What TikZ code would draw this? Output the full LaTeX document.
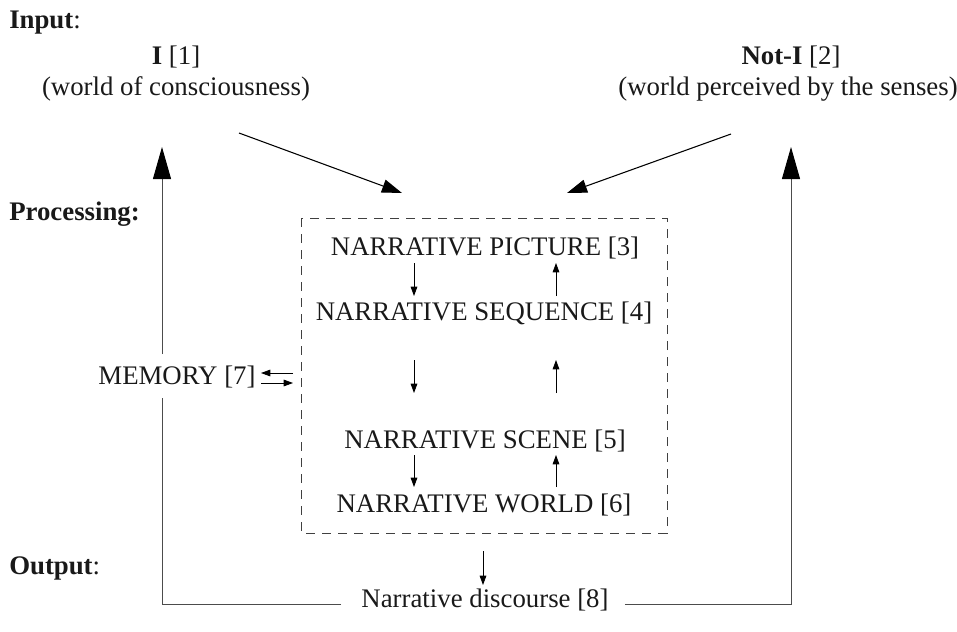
\documentclass[tikz,border=0pt]{standalone}
\usepackage{fontspec}
\setmainfont{Liberation Serif}
\usetikzlibrary{arrows.meta}
\begin{document}
\begin{tikzpicture}[x=0.75pt,y=-0.75pt,
  every node/.style={font=\fontsize{20.1}{24}\selectfont, text=black!90, inner sep=0pt},
  lbl/.style={anchor=west},
  big/.style={-{Triangle[length=24pt,width=13.5pt,color=black]}, line width=0.7pt},
  mid/.style={-{Triangle[length=15pt,width=10pt]}, line width=0.8pt},
  small/.style={-{Triangle[length=7pt,width=5pt]}, line width=0.6pt},
  plain/.style={line width=0.7pt, draw=black!70},
  box/.style={draw=black!75, dashed, dash pattern=on 7pt off 5pt, line width=0.6pt}]
\useasboundingbox (0,0) rectangle (957,632);
% labels
\node[lbl] (inp) at (9,23) {\textbf{Input}:};
\node[lbl] (proc) at (9,214) {\textbf{Processing:}};
\node[lbl] (outp) at (9,568) {\textbf{Output}:};
% inputs
\node (i) at (176,57) {\textbf{I} [1]};
\node (ic) at (176,89) {(world of consciousness)};
\node (ni) at (791,57) {\textbf{Not-I} [2]};
\node (nic) at (788,89) {(world perceived by the senses)};
% box
\draw[box] (301,218) rectangle (667,533);
\node (n3) at (485,248) {NARRATIVE PICTURE [3]};
\node (n4) at (484,313) {NARRATIVE SEQUENCE [4]};
\node (n5) at (485,441) {NARRATIVE SCENE [5]};
\node (n6) at (484,505) {NARRATIVE WORLD [6]};
\node (mem) at (177,377) {MEMORY [7]};
\node (disc) at (485,600) {Narrative discourse [8]};
% coordinates
\coordinate (la) at (239,133);
\coordinate (lt) at (402,193);
\coordinate (ra) at (731,134);
\coordinate (rt) at (567,193);
\coordinate (ltop) at (162,147);
\coordinate (rtop) at (791,147);
\coordinate (lcor) at (162,604);
\coordinate (rcor) at (791,604);
\coordinate (lmemb) at (162,398);
\coordinate (lmemt) at (162,354);
% main input arrows
\draw[mid] (la) -- (lt);
\draw[mid] (ra) -- (rt);
% internal arrows
\draw[small] (414,263) -- (414,296);
\draw[small] (556,296) -- (556,263);
\draw[small] (414,360) -- (414,393);
\draw[small] (556,393) -- (556,360);
\draw[small] (414,455) -- (414,487);
\draw[small] (556,487) -- (556,455);
% memory arrows
\draw[small] (293,373) -- (261,373);
\draw[small] (261,383) -- (293,383);
% output
\draw[small] (483,551) -- (483,585);
\draw[plain] ([xshift=-15pt]disc.west |- lcor) -- (lcor) -- (lmemb);
\draw[plain,big] (lmemt) -- (ltop);
\draw[plain,big] ([xshift=12pt]disc.east |- rcor) -- (rcor) -- (rtop);
\end{tikzpicture}
\end{document}
